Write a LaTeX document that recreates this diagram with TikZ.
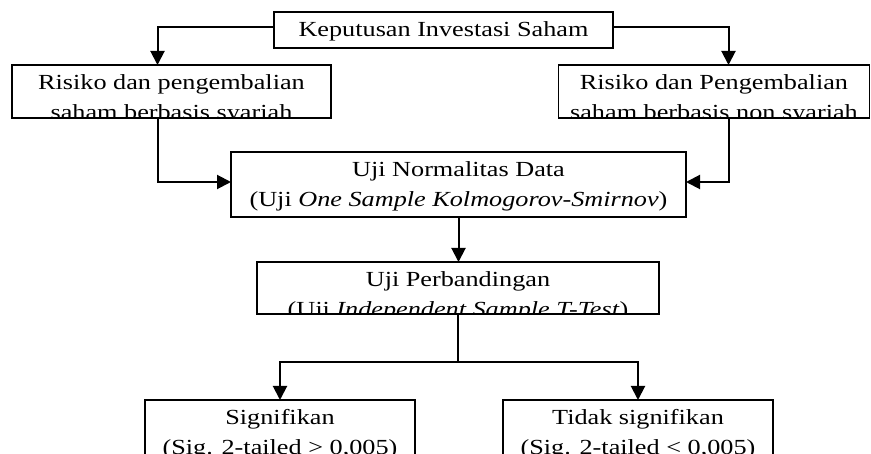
\documentclass[tikz,border=0pt]{standalone}
\usepackage{fontspec}
\setmainfont{Liberation Serif}[FakeStretch=1.22]
\usetikzlibrary{arrows.meta,positioning}

\tikzset{
  flowbox/.style={draw,line width=1.9pt,inner sep=0pt,outer sep=0pt},
  twolines/.style 2 args={path picture={
    \node[draw=none,minimum size=0pt,inner sep=0pt,anchor=base] at ([yshift=-25pt]path picture bounding box.north) {#1};
    \node[draw=none,minimum size=0pt,inner sep=0pt,anchor=base] at ([yshift=-55pt]path picture bounding box.north) {#2};}},
  conn/.style={line width=2pt,-{Triangle[length=14pt,width=14pt]}},
}

\begin{document}
\begin{tikzpicture}[x=1pt,y=-1pt,font=\fontsize{21.5}{30}\selectfont]
\useasboundingbox (0,0) rectangle (871,454);
\clip (0,0) rectangle (871,454);
% boxes, placed at their centres
\node[flowbox,minimum width=339pt,minimum height=36pt,twolines={Keputusan Investasi Saham}{}] (keputusan) at (443.5,30) {};
\node[flowbox,minimum width=319pt,minimum height=53pt,twolines={Risiko dan pengembalian}{saham berbasis syariah}] (syariah) at (171.5,91.5) {};
\node[flowbox,minimum width=311pt,minimum height=53pt,twolines={Risiko dan Pengembalian}{saham berbasis non syariah}] (nonsyariah) at (714,91.5) {};
\node[flowbox,minimum width=455pt,minimum height=65pt,twolines={Uji Normalitas Data}{(Uji \textit{One Sample Kolmogorov-Smirnov})}] (normalitas) at (458.5,184.5) {};
\node[flowbox,minimum width=402pt,minimum height=52pt,twolines={Uji Perbandingan}{(Uji \textit{Independent Sample T-Test})}] (perbandingan) at (458,288) {};
\node[flowbox,minimum width=270pt,minimum height=80pt,twolines={Signifikan}{(Sig. 2-tailed > 0,005)}] (signifikan) at (280,440) {};
\node[flowbox,minimum width=270pt,minimum height=80pt,twolines={Tidak signifikan}{(Sig. 2-tailed < 0,005)}] (tidak) at (638,440) {};
% connectors
\draw[conn] ([yshift=2.5pt]keputusan.west) -| ([xshift=-14pt]syariah.north);
\draw[conn] ([yshift=2.5pt]keputusan.east) -| ([xshift=14.5pt]nonsyariah.north);
\draw[conn] ([xshift=-14pt]syariah.south) |- ([yshift=2.5pt]normalitas.west);
\draw[conn] ([xshift=14.5pt]nonsyariah.south) |- ([yshift=2.5pt]normalitas.east);
\draw[conn] (normalitas.south) -- (normalitas.south |- perbandingan.north);
\draw[line width=1.2pt] (perbandingan.south) -- ++(0,48) coordinate (split);
\draw[conn] (split) -| (signifikan.north);
\draw[conn] (split) -| (tidak.north);
\end{tikzpicture}
\end{document}
